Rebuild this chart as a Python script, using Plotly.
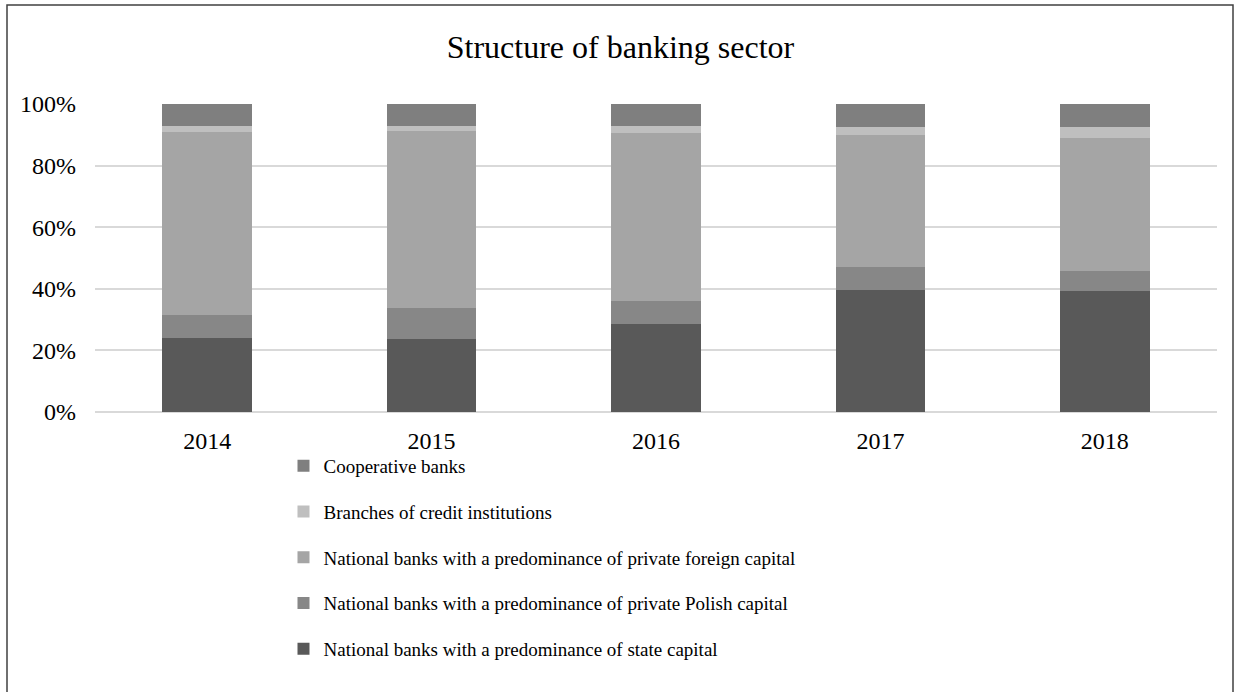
import plotly.graph_objects as go

years = ["2014", "2015", "2016", "2017", "2018"]
series_names = [
    "National banks with a predominance of state capital",
    "National banks with a predominance of private Polish capital",
    "National banks with a predominance of private foreign capital",
    "Branches of credit institutions",
    "Cooperative banks",
]
state_capital = [24.0, 23.7, 28.5, 39.7, 39.3]
polish_capital = [7.5, 10.2, 7.5, 7.3, 6.5]
foreign_capital = [59.5, 57.3, 54.7, 42.9, 43.3]
branches = [2.0, 1.8, 2.2, 2.7, 3.5]
cooperative = [7.0, 7.0, 7.1, 7.4, 7.4]
colors = ["#595959", "#878787", "#a5a5a5", "#bfbfbf", "#7f7f7f"]

values = [state_capital, polish_capital, foreign_capital, branches, cooperative]

FONT = "Liberation Serif, Times New Roman, serif"

fig = go.Figure()
n = len(series_names)
for i, (name, vals, col) in enumerate(zip(series_names, values, colors)):
    fig.add_trace(go.Bar(
        x=years, y=vals, name=name, legendgroup=f"g{i}", legendrank=n - i,
        marker=dict(color=col, line=dict(width=0)),
    ))

fig.update_layout(
    width=1241, height=692,
    barmode="stack", barnorm="percent", bargap=0.6,
    plot_bgcolor="white", paper_bgcolor="white",
    margin=dict(l=95, r=24, t=104, b=280, autoexpand=False),
    font=dict(family=FONT, size=19, color="black"),
    title=dict(text="Structure of banking sector", x=0.5, xref="container",
               xanchor="center", y=1 - 47 / 692, yref="container", yanchor="middle",
               font=dict(family=FONT, size=32, color="black")),
    xaxis=dict(showgrid=False, showline=False, ticks="", tickfont=dict(size=24),
               ticklabelstandoff=12),
    yaxis=dict(range=[0, 100], dtick=20, ticksuffix="%", showgrid=True,
               gridcolor="#d9d9d9", gridwidth=1.5, zeroline=True, zerolinecolor="#d9d9d9",
               zerolinewidth=1.5, tickfont=dict(size=24), ticklabelstandoff=18),
    legend=dict(orientation="v", x=0.168, xanchor="left",
                yref="container", y=1 - 447 / 692, yanchor="top",
                traceorder="grouped", tracegroupgap=18,
                font=dict(size=19), itemwidth=30, bgcolor="rgba(0,0,0,0)"),
    showlegend=True,
    shapes=[dict(type="rect", xref="paper", yref="paper",
                 x0=(7 - 95) / 1122, x1=(1233 - 95) / 1122,
                 y0=(412 - 720) / 308, y1=(412 - 5) / 308,
                 line=dict(color="#404040", width=1.5), fillcolor="rgba(0,0,0,0)")],
)

fig.write_html("out.html")
